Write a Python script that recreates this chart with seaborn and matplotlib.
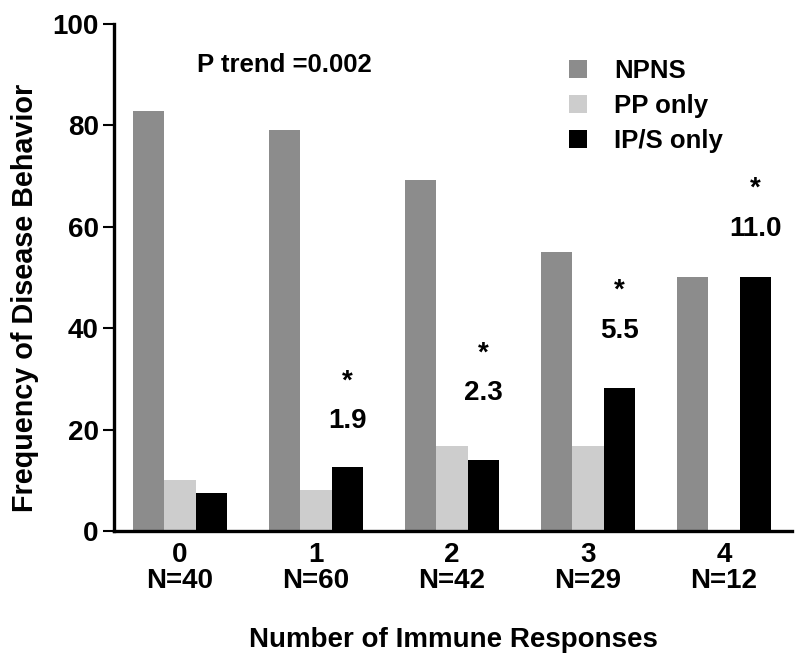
import matplotlib
matplotlib.use("Agg")
import matplotlib.pyplot as plt
import seaborn as sns
import pandas as pd

groups = ["0", "1", "2", "3", "4"]
n_labels = ["N=40", "N=60", "N=42", "N=29", "N=12"]
series = ["NPNS", "PP only", "IP/S only"]
npns = [82.8, 79.1, 69.2, 55.0, 50.1]
pp_only = [10.1, 8.1, 16.8, 16.8, 0.0]
ips_only = [7.5, 12.6, 14.0, 28.2, 50.1]
odds = ["", "1.9", "2.3", "5.5", "11.0"]
colors = ["#8c8c8c", "#cdcdcd", "#000000"]

rows = []
for vals, s in zip([npns, pp_only, ips_only], series):
    for g, v in zip(groups, vals):
        rows.append({"group": g, "series": s, "value": v})
df = pd.DataFrame(rows)

sns.set_theme(style="white")
plt.rcParams["font.family"] = ["Liberation Sans", "DejaVu Sans"]
plt.rcParams["font.weight"] = "bold"
for k in ["text.color", "axes.labelcolor", "xtick.color", "ytick.color"]:
    plt.rcParams[k] = "black"

FS = 20
fig = plt.figure(figsize=(8, 6.66), dpi=100)
ax = fig.add_axes([0.1425, 0.2027, 0.8475, 0.7613])
sns.barplot(data=df, x="group", y="value", hue="series", palette=colors,
            width=0.69, linewidth=0, saturation=1, ax=ax, legend=True)

ax.set_ylim(0, 100)
ax.set_xlim(-0.485, 4.5)
ax.set_yticks([0, 20, 40, 60, 80, 100])
ax.set_yticklabels(["0", "20", "40", "60", "80", "100"], fontsize=FS, fontweight="bold")
ax.set_xticks(range(5))
ax.set_xticklabels([f"{g}\n{n}" for g, n in zip(groups, n_labels)],
                   fontsize=FS, fontweight="bold", linespacing=1.0)
for s in ["top", "right"]:
    ax.spines[s].set_visible(False)
for s in ["left", "bottom"]:
    ax.spines[s].set_linewidth(2.4)
    ax.spines[s].set_color("black")
ax.tick_params(axis="y", length=8, width=1.5, direction="out", left=True, pad=3)
ax.tick_params(axis="x", length=0, pad=8)

ax.set_xlabel("Number of Immune Responses", fontsize=FS, fontweight="bold", labelpad=24)
ax.set_ylabel("Frequency of Disease Behavior", fontsize=20.7, fontweight="bold")
ax.yaxis.set_label_coords(-0.131, 0.46)
ax.yaxis.label.set_va("center")

ax.text(0.77, 92, "P trend =0.002", fontsize=18.5, fontweight="bold", ha="center", va="center")

offs = 0.69 / 3
# annotation positions (star and odds ratio) above IP/S bars
ann_y = {1: (29.5, 21.6), 2: (35.0, 27.3), 3: (47.5, 39.5), 4: (67.6, 59.6)}
for i, (ys, yn) in ann_y.items():
    ax.text(i + offs, ys, "*", fontsize=FS, fontweight="bold", ha="center", va="center")
    ax.text(i + offs, yn, odds[i], fontsize=FS, fontweight="bold", ha="center", va="center")

leg = ax.legend(loc="upper left", bbox_to_anchor=(569 / 800, 1 - 59 / 666),
                bbox_transform=fig.transFigure, frameon=False, borderpad=0, borderaxespad=0,
                fontsize=18.5, handlelength=0.7, handleheight=0.7, handletextpad=1.05,
                labelspacing=0.42, title=None)
for t in leg.get_texts():
    t.set_fontweight("bold")

fig.savefig("out.png", dpi=100)
